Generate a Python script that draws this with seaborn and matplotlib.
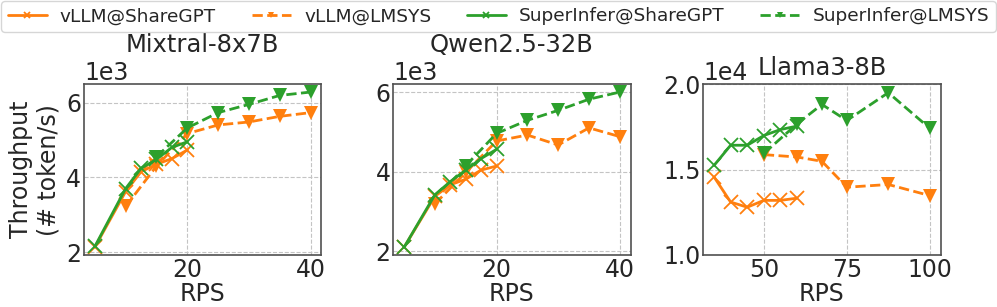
import numpy as np
import pandas as pd
import matplotlib
matplotlib.use("Agg")
import matplotlib.pyplot as plt
import seaborn as sns
from matplotlib.ticker import MultipleLocator, ScalarFormatter

# DATA
models = ["Mixtral-8x7B", "Qwen2.5-32B", "Llama3-8B"]
series_names = ["vLLM@ShareGPT", "vLLM@LMSYS", "SuperInfer@ShareGPT", "SuperInfer@LMSYS"]

# Mixtral-8x7B
mix_share_x = [5, 10, 12.5, 15, 17.5, 20]
mix_vllm_share = [2130, 3620, 4150, 4350, 4500, 4730]
mix_super_share = [2150, 3700, 4240, 4480, 4800, 4950]
mix_vllm_lmsys_x = [10, 15, 20, 25, 30, 35, 40]
mix_vllm_lmsys = [3220, 4300, 5170, 5400, 5480, 5630, 5730]
mix_super_lmsys_x = [15, 20, 25, 30, 35, 40]
mix_super_lmsys = [4550, 5320, 5730, 5950, 6190, 6280]

# Qwen2.5-32B
qwen_share_x = [5, 10, 12.5, 15, 17.5, 20]
qwen_vllm_share = [2100, 3380, 3670, 3810, 4040, 4140]
qwen_super_share = [2100, 3420, 3750, 4040, 4330, 4560]
qwen_vllm_lmsys_x = [10, 15, 20, 25, 30, 35, 40]
qwen_vllm_lmsys = [3190, 3980, 4770, 4920, 4670, 5100, 4880]
qwen_super_lmsys_x = [15, 20, 25, 30, 35, 40]
qwen_super_lmsys = [4150, 4960, 5290, 5540, 5820, 6000]

# Llama3-8B
llama_share_x = [35, 40, 45, 50, 55, 60]
llama_vllm_share = [14570, 13100, 12800, 13200, 13200, 13330]
llama_super_share = [15250, 16430, 16430, 17000, 17350, 17550]
llama_lmsys_x = [50, 60, 67.5, 75, 87.5, 100]
llama_vllm_lmsys = [15880, 15740, 15490, 13970, 14130, 13480]
llama_super_lmsys = [15950, 17680, 18820, 17880, 19510, 17420]

panels = [
    (mix_share_x, mix_vllm_share, mix_super_share, mix_vllm_lmsys_x, mix_vllm_lmsys, mix_super_lmsys_x, mix_super_lmsys),
    (qwen_share_x, qwen_vllm_share, qwen_super_share, qwen_vllm_lmsys_x, qwen_vllm_lmsys, qwen_super_lmsys_x, qwen_super_lmsys),
    (llama_share_x, llama_vllm_share, llama_super_share, llama_lmsys_x, llama_vllm_lmsys, llama_lmsys_x, llama_super_lmsys),
]

sns.set_style("white")
plt.rcParams["font.family"] = ["DejaVu Sans"]

orange = "#ff7f0e"
green = "#2ca02c"
fs = 17

fig = plt.figure(figsize=(9.97, 3.07), dpi=100)
lefts = [0.0843, 0.3945, 0.7054]
axes = [fig.add_axes([l, 0.1694, 0.2380, 0.556]) for l in lefts]
# title heights: first two sit above the offset text
title_y = [1.191, 1.191, 1.053]

for ax, name, p, ty in zip(axes, models, panels, title_y):
    sx, vs, ss, vlx, vl, slx, sl = p
    sns.lineplot(x=sx, y=vs, ax=ax, color=orange, linestyle="-", marker="x", markersize=10,
                 markeredgewidth=1.3, markeredgecolor=orange, linewidth=2, label=series_names[0])
    sns.lineplot(x=vlx, y=vl, ax=ax, color=orange, linestyle="--", marker="v", markersize=10,
                 markeredgewidth=0, markeredgecolor=orange, linewidth=2, label=series_names[1])
    sns.lineplot(x=sx, y=ss, ax=ax, color=green, linestyle="-", marker="x", markersize=10,
                 markeredgewidth=1.3, markeredgecolor=green, linewidth=2, label=series_names[2])
    sns.lineplot(x=slx, y=sl, ax=ax, color=green, linestyle="--", marker="v", markersize=10,
                 markeredgewidth=0, markeredgecolor=green, linewidth=2, label=series_names[3])
    ax.get_legend().remove()
    ax.grid(True, linestyle="--", color="#c4c4c4", linewidth=0.8)
    for s in ax.spines.values():
        s.set_color("#505050")
        s.set_linewidth(1.2)
    fmt = ScalarFormatter()
    fmt.set_scientific(True)
    fmt.set_powerlimits((0, 0))
    ax.yaxis.set_major_formatter(fmt)
    ax.tick_params(labelsize=fs, length=0, pad=2)
    ax.yaxis.get_offset_text().set_fontsize(fs)
    ax.set_xlabel("RPS", fontsize=fs, labelpad=0)
    ax.set_title(name, fontsize=17.5, y=ty, pad=0)

axes[0].yaxis.set_major_locator(MultipleLocator(2000))
axes[1].yaxis.set_major_locator(MultipleLocator(2000))
axes[0].xaxis.set_major_locator(MultipleLocator(20))
axes[1].xaxis.set_major_locator(MultipleLocator(20))
axes[2].xaxis.set_major_locator(MultipleLocator(25))
axes[2].yaxis.set_major_locator(MultipleLocator(5000))
axes[2].set_ylim(10000, 20000)
axes[0].set_ylabel("Throughput\n(# token/s)", fontsize=fs, labelpad=4)

handles, labels = axes[0].get_legend_handles_labels()
fig.legend(handles, labels, loc="upper center", bbox_to_anchor=(0.5, 0.997),
           ncol=4, fontsize=13.3, markerscale=0.5, handlelength=2.1, handletextpad=0.72,
           columnspacing=1.94, borderpad=0.35, frameon=True, borderaxespad=0)

fig.savefig("out.png", dpi=100)
